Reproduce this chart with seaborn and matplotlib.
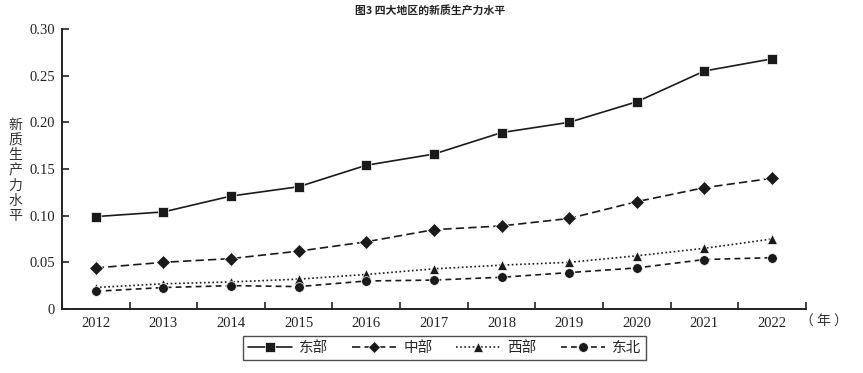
import matplotlib
matplotlib.use("Agg")
import matplotlib.pyplot as plt
import seaborn as sns
import pandas as pd
from matplotlib.ticker import FixedLocator, FuncFormatter

years = [2012, 2013, 2014, 2015, 2016, 2017, 2018, 2019, 2020, 2021, 2022]
regions = ["东部", "中部", "西部", "东北"]
east = [0.099, 0.104, 0.121, 0.131, 0.154, 0.166, 0.189, 0.200, 0.222, 0.255, 0.268]
central = [0.044, 0.050, 0.054, 0.062, 0.072, 0.085, 0.089, 0.097, 0.115, 0.130, 0.140]
west = [0.023, 0.027, 0.029, 0.032, 0.037, 0.043, 0.047, 0.050, 0.057, 0.065, 0.075]
northeast = [0.019, 0.023, 0.025, 0.024, 0.030, 0.031, 0.034, 0.039, 0.044, 0.053, 0.055]
yticks = [0, 0.05, 0.10, 0.15, 0.20, 0.25, 0.30]

series = [east, central, west, northeast]
df = pd.DataFrame({
    "年份": years * 4,
    "地区": [r for r in regions for _ in years],
    "值": [v for s in series for v in s],
})

sns.set_style("ticks")
plt.rcParams["font.family"] = ["Liberation Serif", "Noto Sans CJK SC", "DejaVu Sans"]
cjk = ["Noto Sans CJK SC", "DejaVu Sans"]

fig = plt.figure(figsize=(8.63, 3.73), dpi=100)
ax = fig.add_axes([0.0718, 0.1716, 0.8620, 0.7507])

dashes = {"东部": "", "中部": (5, 2.5), "西部": (1, 1.5), "东北": (3.5, 2.5)}
markers = {"东部": "s", "中部": "D", "西部": "^", "东北": "o"}
sns.lineplot(data=df, x="年份", y="值", style="地区", style_order=regions,
             dashes=dashes, markers=markers, color="#1a1a1a", linewidth=1.2,
             markersize=7, markeredgewidth=0.5, ax=ax)

msizes = {"东部": 7.5, "中部": 6.5, "西部": 8, "东北": 7.5}
handles, labels = ax.get_legend_handles_labels()
for line in ax.lines:
    lab = line.get_label()
    if lab in msizes:
        line.set_markersize(msizes[lab])
for h, l in zip(handles, labels):
    if l in msizes:
        h.set_markersize(msizes[l] - 0.5)
ax.get_legend().remove()

ax.set_xlim(2011.5, 2022.5)
ax.set_ylim(0, 0.30)
ax.set_xticks(years)
ax.set_xticklabels([str(y) for y in years])
ax.xaxis.set_minor_locator(FixedLocator([y + 0.5 for y in [2011] + years]))
ax.tick_params(axis="x", which="major", length=0, pad=6, labelsize=10.5, colors="#222222")
ax.tick_params(axis="x", which="minor", direction="in", length=5, width=1.2, color="#222222")
ax.set_yticks(yticks)
ax.yaxis.set_major_formatter(FuncFormatter(lambda v, p: "0" if v == 0 else f"{v:.2f}"))
ax.tick_params(axis="y", direction="in", length=5, width=1.2, labelsize=10.5, pad=5,
               colors="#222222")
ax.set_xlabel("")
ax.set_ylabel("")
for s in ["top", "right"]:
    ax.spines[s].set_visible(False)
for s in ["left", "bottom"]:
    ax.spines[s].set_linewidth(1.4)
    ax.spines[s].set_color("#222222")

fig.text(0.4985, 0.988, "图3 四大地区的新质生产力水平", ha="center", va="top",
         fontsize=7.8, fontweight="bold", family=cjk, color="#222222")
fig.text(0.018, 0.543, "\n".join("新质生产力水平"), ha="center", va="center",
         fontsize=10, linespacing=1.1, family=cjk, color="#333333")
fig.text(0.955, 0.137, "（ 年 ）", ha="center", va="center", fontsize=10,
         family=cjk, color="#333333")

leg = fig.legend(handles, labels, loc="center", bbox_to_anchor=(0.515, 0.067),
                 ncol=4, frameon=True, fancybox=False, edgecolor="#222222",
                 handlelength=3.0, columnspacing=1.65, handletextpad=0.5,
                 borderpad=0.35, prop={"family": cjk, "size": 10.5})
leg.get_frame().set_linewidth(1.0)

fig.savefig("out.png", dpi=100)
